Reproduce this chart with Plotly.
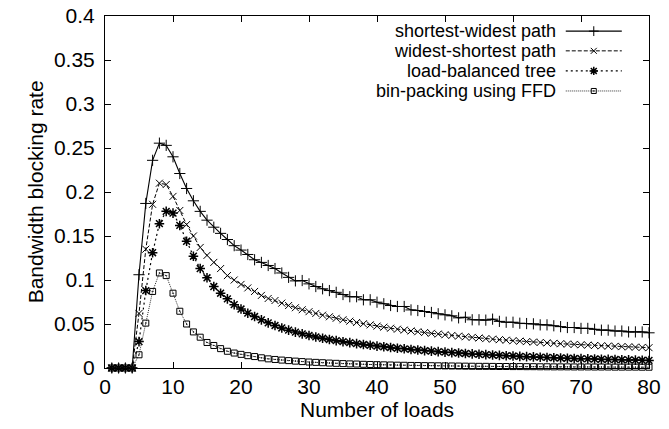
import plotly.graph_objects as go

loads = list(range(1, 81))

shortest_widest = [
    0, 0, 0, 0, 0.106, 0.187, 0.236, 0.2555, 0.253, 0.240,
    0.221, 0.204, 0.190, 0.178, 0.168, 0.160, 0.153, 0.146, 0.139, 0.134,
    0.129, 0.123, 0.120, 0.1165, 0.113, 0.108, 0.103, 0.099, 0.0994, 0.0956,
    0.0926, 0.090, 0.088, 0.086, 0.0835, 0.081, 0.081, 0.0775, 0.0775, 0.0748,
    0.073, 0.071, 0.0699, 0.0699, 0.066, 0.0653, 0.0642, 0.0631, 0.0616, 0.0604,
    0.0593, 0.057, 0.0577, 0.0548, 0.0548, 0.0544, 0.0555, 0.053, 0.052, 0.052,
    0.0509, 0.0505, 0.0502, 0.049, 0.049, 0.048, 0.047, 0.046, 0.046, 0.045,
    0.045, 0.044, 0.043, 0.043, 0.042, 0.042, 0.041, 0.041, 0.041, 0.040,
]

widest_shortest = [
    0, 0, 0, 0, 0.062, 0.135, 0.186, 0.210, 0.2085, 0.195,
    0.179, 0.163, 0.150, 0.137, 0.128, 0.120, 0.113, 0.105, 0.100, 0.095,
    0.091, 0.087, 0.0825, 0.079, 0.0767, 0.0737, 0.0710, 0.0685, 0.0662, 0.0640,
    0.0620, 0.0600, 0.0582, 0.0565, 0.0548, 0.0532, 0.0517, 0.0503, 0.0490, 0.0476,
    0.0464, 0.0452, 0.0441, 0.0431, 0.0421, 0.0412, 0.0403, 0.0394, 0.0386, 0.0378,
    0.0370, 0.0362, 0.0355, 0.0348, 0.0341, 0.0334, 0.0328, 0.0322, 0.0316, 0.0310,
    0.0305, 0.0300, 0.0295, 0.0290, 0.0285, 0.0280, 0.0276, 0.0272, 0.0268, 0.0264,
    0.0260, 0.0256, 0.0252, 0.0249, 0.0246, 0.0243, 0.0240, 0.0237, 0.0234, 0.0231,
]

load_balanced = [
    0, 0, 0, 0, 0.030, 0.088, 0.131, 0.164, 0.178, 0.176,
    0.162, 0.144, 0.127, 0.113, 0.1025, 0.0926, 0.085, 0.0786, 0.072, 0.067,
    0.0623, 0.0585, 0.0547, 0.0513, 0.0483, 0.0455, 0.0430, 0.0408, 0.0388, 0.0370,
    0.0353, 0.0338, 0.0324, 0.0311, 0.0299, 0.0288, 0.0277, 0.0267, 0.0258, 0.0249,
    0.0241, 0.0233, 0.0225, 0.0218, 0.0211, 0.0204, 0.0198, 0.0192, 0.0186, 0.0180,
    0.0175, 0.0170, 0.0165, 0.0160, 0.0156, 0.0152, 0.0148, 0.0144, 0.0140, 0.0136,
    0.0132, 0.0129, 0.0126, 0.0123, 0.0120, 0.0117, 0.0114, 0.0111, 0.0108, 0.0106,
    0.0104, 0.0102, 0.0100, 0.0098, 0.0096, 0.0094, 0.0092, 0.0090, 0.0088, 0.0086,
]

bin_packing = [
    0, 0, 0, 0, 0.015, 0.051, 0.087, 0.108, 0.105, 0.085,
    0.0645, 0.050, 0.041, 0.035, 0.029, 0.0256, 0.022, 0.019, 0.017, 0.0155,
    0.014, 0.013, 0.0116, 0.0104, 0.0097, 0.0090, 0.0084, 0.0078, 0.0073, 0.0068,
    0.0064, 0.0060, 0.0056, 0.0053, 0.0050, 0.0047, 0.0045, 0.0042, 0.0040, 0.0038,
    0.0036, 0.0034, 0.0032, 0.0031, 0.0029, 0.0028, 0.0027, 0.0026, 0.0025, 0.0024,
    0.0023, 0.0022, 0.0021, 0.0020, 0.0019, 0.0019, 0.0018, 0.0017, 0.0017, 0.0016,
    0.0016, 0.0015, 0.0015, 0.0014, 0.0014, 0.0013, 0.0013, 0.0013, 0.0012, 0.0012,
    0.0012, 0.0011, 0.0011, 0.0011, 0.0010, 0.0010, 0.0010, 0.0010, 0.0009, 0.0009,
]

series_names = [
    "shortest-widest path",
    "widest-shortest path",
    "load-balanced tree",
    "bin-packing using FFD",
]
series_values = [shortest_widest, widest_shortest, load_balanced, bin_packing]

x_tick_values = [0, 10, 20, 30, 40, 50, 60, 70, 80]
y_tick_values = [0, 0.05, 0.1, 0.15, 0.2, 0.25, 0.3, 0.35, 0.4]
y_tick_labels = ["0", "0.05", "0.1", "0.15", "0.2", "0.25", "0.3", "0.35", "0.4"]

styles = [
    dict(dash="solid", width=1.1, color="black", symbol="cross-thin", size=8, mlw=1),
    dict(dash="4px,2px", width=1, color="black", symbol="x-thin", size=7, mlw=1),
    dict(dash="2px,3px", width=1.2, color="black", symbol="asterisk", size=8, mlw=1.5),
    dict(dash="1px,1px", width=1, color="#333333", symbol="square-open-dot", size=6, mlw=1),
]

FONT = "Liberation Sans, Arial, Helvetica, sans-serif"
FS = 21
LEGEND_FS = 18

fig = go.Figure()
for name, vals, st in zip(series_names, series_values, styles):
    fig.add_trace(go.Scatter(
        x=loads, y=vals, mode="lines+markers", name=name, showlegend=False,
        line=dict(color=st["color"], width=st["width"], dash=st["dash"]),
        marker=dict(symbol=st["symbol"], size=st["size"], color="black",
                    line=dict(color="black", width=st["mlw"])),
        cliponaxis=False,
    ))

# legend (gnuplot style: text on the left, sample on the right)
row_y = [0.957, 0.901, 0.844, 0.787]
text_x = 0.831
line_x0, line_x1 = 0.847, 0.950
mid_x = (line_x0 + line_x1) / 2
annotations = []
shapes = []
for name, st, ry in zip(series_names, styles, row_y):
    annotations.append(dict(
        x=text_x, y=ry, xref="paper", yref="paper", text=name, showarrow=False,
        xanchor="right", yanchor="middle", borderpad=0,
        font=dict(family=FONT, size=LEGEND_FS, color="black"),
    ))
    shapes.append(dict(
        type="line", xref="paper", yref="paper", x0=line_x0, x1=line_x1, y0=ry, y1=ry,
        line=dict(color=st["color"], width=st["width"], dash=st["dash"]),
    ))
    fig.add_trace(go.Scatter(
        x=[mid_x], y=[ry], xaxis="x2", yaxis="y2", mode="markers", showlegend=False,
        marker=dict(symbol=st["symbol"], size=st["size"] - 1, color="black",
                    line=dict(color="black", width=st["mlw"])),
        hoverinfo="skip",
    ))

# axis titles
annotations.append(dict(
    x=0.5, y=-0.1165, xref="paper", yref="paper", text="Number of loads",
    showarrow=False, xanchor="center", yanchor="middle",
    font=dict(family=FONT, size=FS, color="black"),
))
annotations.append(dict(
    x=-0.128, y=0.5, xref="paper", yref="paper", text="Bandwidth blocking rate",
    showarrow=False, xanchor="center", yanchor="middle", textangle=-90,
    font=dict(family=FONT, size=FS, color="black"),
))

axis_common = dict(
    showline=True, linecolor="black", linewidth=1, mirror="ticks",
    ticks="inside", ticklen=6, tickcolor="black", tickwidth=1,
    showgrid=False, zeroline=False, ticklabeloverflow="allow",
    tickfont=dict(family=FONT, size=FS, color="black"),
)

# the page body adds an 8px offset, so the figure is sized to fit the 669x429 window
fig.update_layout(
    width=661, height=421,
    margin=dict(l=97, r=20, t=8, b=61),
    paper_bgcolor="white", plot_bgcolor="white",
    font=dict(family=FONT, size=FS, color="black"),
    xaxis=dict(range=[0, 80], tickvals=x_tick_values, automargin=False, **axis_common),
    yaxis=dict(range=[0, 0.4], tickvals=y_tick_values, ticktext=y_tick_labels,
               automargin=False, ticklabelstandoff=5, **axis_common),
    xaxis2=dict(range=[0, 1], overlaying="x", visible=False),
    yaxis2=dict(range=[0, 1], overlaying="y", visible=False),
    annotations=annotations,
    shapes=shapes,
)

fig.write_html("out.html")
